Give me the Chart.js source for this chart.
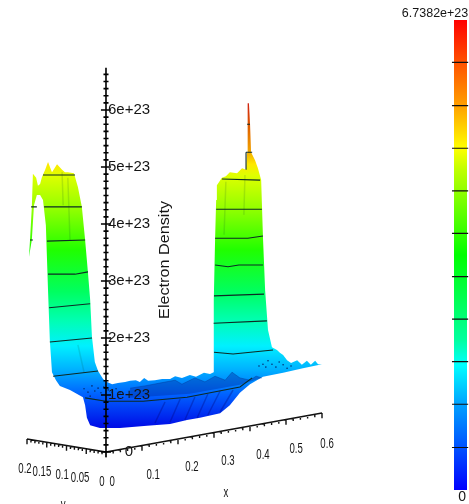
<!DOCTYPE html>
<html>
<head>
<meta charset="utf-8">
<title>Electron Density</title>
<script src="https://cdn.jsdelivr.net/npm/chart.js@4"></script>
<style>
    html, body { margin: 0; padding: 0; background: #fff; }
    canvas { display: block; filter: blur(0.5px); }
</style>
</head>
<body>
<canvas id="surfaceChart" width="469" height="504"></canvas>
<script>
"use strict";

// silhouette of the surface: u = projected position along x, v = density / 1e23
var topU = [-0.214, -0.211, -0.206, -0.203, -0.194, -0.189, -0.183, -0.178, -0.169, -0.161, -0.150, -0.136, -0.122, -0.114, -0.106, -0.089, -0.078, -0.067, -0.058, -0.050, -0.044, -0.039, -0.031, -0.022, -0.008, 0.003, 0.017, 0.033, 0.053, 0.067, 0.083, 0.094, 0.106, 0.117, 0.136, 0.156, 0.178, 0.192, 0.211, 0.233, 0.250, 0.272, 0.289, 0.299, 0.2994, 0.303, 0.306, 0.308, 0.322, 0.333, 0.344, 0.364, 0.378, 0.389, 0.392, 0.393, 0.394, 0.397, 0.400, 0.403, 0.414, 0.422, 0.431, 0.433, 0.436, 0.442, 0.450, 0.461, 0.475, 0.483, 0.492, 0.503, 0.514, 0.531, 0.544, 0.558, 0.569, 0.581, 0.589, 0.600];
var topV = [3.42, 3.72, 4.30, 4.88, 4.81, 4.67, 4.70, 4.82, 4.95, 5.09, 4.91, 5.05, 4.95, 4.91, 4.91, 4.89, 4.65, 4.30, 3.72, 3.14, 2.67, 2.02, 1.58, 1.42, 1.28, 1.23, 1.19, 1.21, 1.23, 1.25, 1.26, 1.23, 1.30, 1.25, 1.26, 1.28, 1.28, 1.33, 1.30, 1.35, 1.32, 1.39, 1.37, 1.40, 2.67, 3.72, 4.42, 4.68, 4.81, 4.84, 4.91, 4.89, 4.98, 4.95, 5.25, 5.70, 6.12, 6.12, 5.77, 5.26, 5.12, 4.98, 4.77, 4.37, 3.77, 2.84, 2.14, 1.84, 1.79, 1.74, 1.70, 1.61, 1.56, 1.61, 1.53, 1.60, 1.53, 1.60, 1.54, 1.54];
var bottomU = [-0.214, -0.206, -0.200, -0.192, -0.183, -0.175, -0.167, -0.161, -0.156, -0.150, -0.139, -0.128, -0.100, -0.064, -0.058, -0.053, -0.044, -0.017, 0.039, 0.114, 0.178, 0.225, 0.261, 0.317, 0.344, 0.372, 0.400, 0.436, 0.492, 0.547, 0.600];
var bottomV = [3.42, 3.72, 4.33, 4.51, 4.51, 4.42, 3.98, 2.84, 1.96, 1.40, 1.26, 1.16, 1.09, 0.96, 0.82, 0.60, 0.47, 0.42, 0.42, 0.46, 0.49, 0.56, 0.60, 0.68, 0.82, 1.04, 1.19, 1.32, 1.39, 1.47, 1.54];

// rough darker band of the floor, behind the front contour
var shadeTopU = [0.067, 0.108, 0.150, 0.192, 0.211, 0.247, 0.275, 0.303, 0.331, 0.350, 0.372, 0.400, 0.417, 0.433];
var shadeTopV = [1.12, 1.16, 1.21, 1.26, 1.19, 1.30, 1.23, 1.33, 1.26, 1.40, 1.30, 1.26, 1.33, 1.30];
var shadeBottomU = [0.067, 0.233, 0.372, 0.433];
var shadeBottomV = [0.95, 1.02, 1.18, 1.30];

// contour levels, null breaks one line from the next
var contourU = [-0.175, -0.086, null, -0.208, -0.192, null, -0.172, -0.067, null, -0.211, -0.203, null, -0.164, -0.058, null, -0.161, -0.086, -0.050, null, -0.158, -0.044, null, -0.156, -0.039, null, -0.147, -0.022, null, -0.058, 0, 0.103, 0.225, 0.372, 0.406, null, 0.322, 0.428, null, 0.306, 0.433, null, 0.303, 0.394, 0.436, null, 0.303, 0.339, 0.369, 0.436, null, 0.300, 0.439, null, 0.299, 0.447, null, 0.300, 0.353, 0.464, null, 0.392, 0.400, null, 0.389, 0.406, null, 0.389, 0.389];
var contourV = [4.86, 4.86, null, 4.30, 4.30, null, 4.30, 4.30, null, 3.72, 3.72, null, 3.70, 3.72, null, 3.12, 3.12, 3.16, null, 2.53, 2.60, null, 1.93, 2.00, null, 1.33, 1.42, null, 0.95, 0.89, 0.89, 0.96, 1.14, 1.30, null, 4.79, 4.77, null, 4.26, 4.26, null, 3.75, 3.75, 3.79, null, 3.28, 3.25, 3.28, 3.28, null, 2.74, 2.77, null, 2.26, 2.30, null, 1.75, 1.72, 1.79, null, 5.75, 5.75, null, 5.26, 5.26, null, 5.26, 4.95];

// faint folds on the front of the floor and on the walls
var streakU = [0.164, 0.136, null, 0.206, 0.178, null, 0.247, 0.219, null, 0.283, 0.253, null, 0.317, 0.283, null, 0.353, 0.317];
var streakV = [0.877, 0.509, null, 0.93, 0.526, null, 0.965, 0.561, null, 1.018, 0.596, null, 1.07, 0.649, null, 1.088, 0.702];
var wallFoldU = [-0.122, -0.119, null, -0.106, -0.100, null, 0.333, 0.328, null, 0.386, 0.383, null, -0.078, -0.061];
var wallFoldV = [4.91, 4.33, null, 4.81, 3.72, null, 4.74, 3.81, null, 4.86, 4.16, null, 1.88, 1.40];

// dark specks where the mesh pokes through
var speckU = [-0.061, -0.050, -0.039, -0.031, -0.022, -0.014, -0.006, 0.006, -0.044, 0.017, 0.028, 0.039, 0.425, 0.436, 0.450, 0.461, 0.472, 0.481, 0.492, 0.503, 0.514, 0.444];
var speckV = [1.11, 1.05, 1.16, 1.07, 1.12, 1.04, 1.14, 1.09, 0.98, 1.05, 1.11, 1.04, 1.51, 1.54, 1.60, 1.54, 1.49, 1.58, 1.53, 1.47, 1.51, 1.49];

// colours of the surface by density
var surfaceStops = [-0.15, 0.46, 1.0, 1.44, 1.86, 2.32, 2.81, 3.54, 4.25, 4.86, 5.05, 5.30, 5.70, 6.12];
var surfaceColours = ["#0000d8", "#0010e8", "#0060ff", "#00b0ff", "#00f0ff", "#00ffb0", "#00ff60", "#20ff00", "#90ff00", "#e0ff00", "#ffe800", "#f0a000", "#e06000", "#d02010"];

// colour bar
var barStops = [0, 0.60, 1.22, 1.79, 2.15, 3.37, 3.66, 4.59, 4.90, 5.51, 6.14, 6.7382];
var barColours = ["#0000ff", "#0050ff", "#00a0ff", "#00ffff", "#00ffa0", "#00ff00", "#30ff00", "#c0ff00", "#ffff00", "#ffa000", "#ff5000", "#ff0000"];
var barTicks = [0.61, 1.23, 1.84, 2.45, 3.06, 3.68, 4.29, 4.90, 5.51, 6.13];

// axis ticks
var densityMax = 6.74;
var densityLabels = ["0", "1e+23", "2e+23", "3e+23", "4e+23", "5e+23", "6e+23"];
var xLabels = ["0", "0.1", "0.2", "0.3", "0.4", "0.5", "0.6"];
var xLabelU = [0.017, 0.131, 0.239, 0.339, 0.436, 0.528, 0.614];
var xLabelV = [-0.526, -0.404, -0.263, -0.158, -0.053, 0.053, 0.14];
var yLabels = ["0.2", "0.15", "0.1", "0.05", "0"];
var yLabelU = [-0.225, -0.178, -0.122, -0.072, -0.011];
var yLabelV = [-0.298, -0.351, -0.404, -0.456, -0.526];

function points(us, vs) {
    var out = [];
    for (var i = 0; i < us.length; i++) {
        out.push({ x: us[i] === null ? us[i - 1] : us[i], y: vs[i] });
    }
    return out;
}

function gradientFrom(chart, axisId, stops, colours) {
    var scale = chart.scales[axisId];
    var lo = stops[0], hi = stops[stops.length - 1];
    var y0 = scale ? scale.getPixelForValue(lo) : NaN, y1 = scale ? scale.getPixelForValue(hi) : NaN;
    // scales have no pixels yet on the very first pass
    if (!isFinite(y0) || !isFinite(y1)) return "transparent";
    var g = chart.ctx.createLinearGradient(0, y0, 0, y1);
    for (var i = 0; i < stops.length; i++) {
        g.addColorStop((stops[i] - lo) / (hi - lo), colours[i]);
    }
    return g;
}

// ticks are short crossing segments, gaps keep them apart
function densityAxisPoints() {
    var out = [{ x: 0, y: 0 }, { x: 0, y: densityMax }, { x: 0, y: null }];
    for (var k = 0; k <= 53; k++) {
        var v = k * 0.125;
        var half = (k % 8 === 0) ? 0.014 : 0.007;
        out.push({ x: -half, y: v }, { x: half, y: v }, { x: half, y: null });
    }
    return out;
}

function floorAxisPoints(uPer, vPer, maxVal, step, majorEvery) {
    var out = [{ x: 0, y: 0 }, { x: uPer * maxVal, y: vPer * maxVal }, { x: uPer * maxVal, y: null }];
    var n = Math.round(maxVal / step);
    for (var k = 0; k <= n; k++) {
        var u = uPer * k * step, v = vPer * k * step;
        var len = (k % majorEvery === 0) ? 0.09 : 0.05;
        out.push({ x: u, y: v }, { x: u, y: v - len }, { x: u, y: null });
    }
    return out;
}

function barTickPoints() {
    var out = [];
    barTicks.forEach(function (t) {
        out.push({ x: 0.961, y: t }, { x: 1.006, y: t }, { x: 1.006, y: null });
    });
    return out;
}

var line = function (data, color, width, extra) {
    return Object.assign({
        type: "line", data: data, borderColor: color, borderWidth: width,
        pointRadius: 0, tension: 0, fill: false, spanGaps: false
    }, extra || {});
};

var textPlugin = {
    id: "surfaceText",
    afterDraw: function (chart) {
        var ctx = chart.ctx, x = chart.scales.x, y = chart.scales.y;
        var put = function (text, u, v, font, rot, squeeze) {
            ctx.save();
            ctx.font = font;
            ctx.fillStyle = "#151515";
            ctx.textAlign = "center";
            ctx.textBaseline = "middle";
            ctx.translate(x.getPixelForValue(u), y.getPixelForValue(v));
            if (rot) ctx.rotate(rot);
            if (squeeze) ctx.scale(squeeze, 1);
            ctx.fillText(text, 0, 0);
            ctx.restore();
        };
        var sans = '"Liberation Sans", Arial, sans-serif';
        densityLabels.forEach(function (t, i) { put(t, 0.064, i, "15px " + sans); });
        xLabels.forEach(function (t, i) { put(t, xLabelU[i], xLabelV[i], "15px " + sans, 0, 0.64); });
        yLabels.forEach(function (t, i) { put(t, yLabelU[i], yLabelV[i], "15px " + sans, 0, 0.64); });
        put("x", 0.333, -0.719, "15px " + sans, 0, 0.64);
        put("y", -0.119, -0.93, "15px " + sans, 0, 0.64);
        put("Electron Density", 0.164, 3.37, "15px " + sans, -Math.PI / 2, 1.08);
        put("6.7382e+23", 0.914, 7.70, "12.5px " + sans);
        put("0", 0.989, -0.79, "14px " + sans);
    }
};

new Chart(document.getElementById("surfaceChart"), {
    type: "line",
    data: {
        datasets: [
            line(densityAxisPoints(), "#000", 1.6, { order: 0 }),
            line(floorAxisPoints(1, 1.14, 0.6, 0.02, 5), "#111", 1.4, { order: 0 }),
            line(floorAxisPoints(-1.097, 1.14, 0.2, 0.01, 5), "#111", 1.4, { order: 0 }),
            line(barTickPoints(), "#111", 1.2, { order: 0, yAxisID: "bar" }),
            line(points(contourU, contourV), "#0c2a24", 1.1, { order: 1 }),
            line(points(speckU, speckV), "transparent", 0, { order: 2, showLine: false, pointRadius: 0.8, pointBackgroundColor: "#032c70", pointBorderWidth: 0 }),
            line(points(streakU, streakV), "rgba(0,0,110,0.3)", 1.5, { order: 3 }),
            line(points(wallFoldU, wallFoldV), "rgba(0,70,40,0.14)", 1.5, { order: 3 }),
            line(points(shadeTopU, shadeTopV), "rgba(0,50,140,0.5)", 0.8, { order: 4, fill: "+1", backgroundColor: "rgba(0,45,165,0.42)" }),
            line(points(shadeBottomU, shadeBottomV), "transparent", 0, { order: 5 }),
            line(points(topU, topV), "transparent", 0, {
                order: 6,
                fill: "+1",
                backgroundColor: function (ctx) {
                    return gradientFrom(ctx.chart, "y", surfaceStops, surfaceColours);
                }
            }),
            line(points(bottomU, bottomV), "transparent", 0, { order: 7 }),
            line([{ x: 0.9847, y: 0 }, { x: 0.9847, y: 6.7382 }], "#0000ff", 13, {
                order: 8,
                yAxisID: "bar",
                borderCapStyle: "butt",
                borderColor: function (ctx) {
                    return gradientFrom(ctx.chart, "bar", barStops, barColours);
                }
            })
        ]
    },
    options: {
        responsive: false,
        animation: false,
        events: [],
        layout: { padding: 0, autoPadding: false },
        plugins: { legend: { display: false }, tooltip: { enabled: false } },
        scales: {
            x: { type: "linear", display: false, min: -0.2944, max: 1.0083 },
            y: { type: "linear", display: false, min: -0.912, max: 7.93 },
            bar: { type: "linear", display: false, min: -0.2, max: 7.025 }
        }
    },
    plugins: [textPlugin]
});
</script>
</body>
</html>
